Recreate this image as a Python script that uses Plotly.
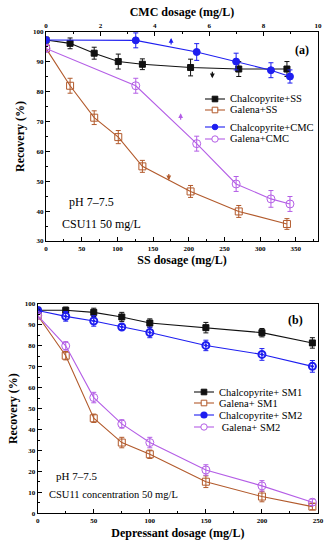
import plotly.graph_objects as go

# ---------- data: panel (a) ----------
ss_dose = [0, 33.75, 67.5, 101.25, 135, 202.5, 270, 337.5]
chalco_ss = [97.3, 96.2, 92.9, 90.1, 89.2, 88.1, 87.6, 87.6]
chalco_ss_err = [0.8, 1.8, 2.0, 2.5, 1.8, 2.8, 2.5, 2.5]
galena_ss = [94.5, 82.0, 71.3, 64.8, 55.0, 46.6, 39.9, 35.7]
galena_ss_err = [1.0, 2.5, 2.3, 2.2, 2.0, 2.0, 2.0, 1.8]

cmc_dose = [0, 3.3, 5.54, 6.99, 8.27, 8.97]
chalco_cmc = [97.3, 97.2, 93.3, 90.1, 87.2, 85.1]
chalco_cmc_err = [0.8, 2.5, 2.8, 2.8, 2.5, 2.2]
galena_cmc = [94.5, 82.0, 62.6, 49.1, 44.1, 42.4]
galena_cmc_err = [1.0, 2.5, 2.5, 2.5, 2.8, 2.5]

# ---------- data: panel (b) ----------
dep_dose = [0, 25, 50, 75, 100, 150, 200, 245]
chalco_sm1 = [97.0, 97.0, 96.0, 93.8, 90.9, 88.7, 86.3, 81.4]
chalco_sm1_err = [0.8, 1.5, 2.0, 2.2, 2.0, 2.5, 2.0, 2.5]
galena_sm1 = [94.5, 75.3, 45.4, 33.8, 28.2, 15.1, 8.0, 3.2]
galena_sm1_err = [1.0, 2.0, 2.0, 2.5, 2.0, 2.8, 2.5, 1.5]
chalco_sm2 = [96.9, 94.1, 91.9, 89.0, 86.4, 80.2, 75.9, 70.2]
chalco_sm2_err = [0.8, 2.3, 2.5, 1.2, 2.5, 2.5, 2.8, 2.8]
galena_sm2 = [94.5, 80.0, 55.3, 42.7, 33.8, 20.7, 13.1, 5.3]
galena_sm2_err = [1.0, 2.0, 2.5, 2.0, 2.5, 2.5, 2.5, 1.5]

BLACK = "#111111"
BROWN = "#b25a2c"
BLUE = "#1e1ef0"
PURPLE = "#b45ee6"
FONT = "Liberation Serif"
W, H = 329, 550

fig = go.Figure()


def add(x, y, err, name, color, symbol, size, xaxis, yaxis, mlw=1):
    fig.add_trace(go.Scatter(
        x=x, y=y, name=name, mode="lines+markers",
        xaxis=xaxis, yaxis=yaxis, showlegend=False,
        line=dict(color=color, width=1.1),
        marker=dict(symbol=symbol, size=size, color=color,
                    line=dict(color=color, width=mlw)),
        error_y=dict(type="data", array=err, visible=True, color=color,
                     thickness=1, width=2.5),
    ))


add(ss_dose, chalco_ss, chalco_ss_err, "Chalcopyrite+SS", BLACK, "square", 6, "x", "y")
add(ss_dose, galena_ss, galena_ss_err, "Galena+SS", BROWN, "square-open", 7, "x", "y")
add(cmc_dose, chalco_cmc, chalco_cmc_err, "Chalcopyrite+CMC", BLUE, "circle", 7, "x2", "y")
add(cmc_dose, galena_cmc, galena_cmc_err, "Galena+CMC", PURPLE, "circle-open", 8, "x2", "y")

add(dep_dose, chalco_sm1, chalco_sm1_err, "Chalcopyrite+ SM1", BLACK, "square", 6, "x3", "y3")
add(dep_dose, galena_sm1, galena_sm1_err, "Galena+ SM1", BROWN, "square-open", 7, "x3", "y3")
add(dep_dose, chalco_sm2, chalco_sm2_err, "Chalcopyrite+ SM2", BLUE, "circle-open-dot", 7, "x3", "y3", mlw=2)
add(dep_dose, galena_sm2, galena_sm2_err, "Galena+ SM2", PURPLE, "circle-open", 8, "x3", "y3")

xa = [46 / W, 318 / W]
ya = [1 - 241 / H, 1 - 32 / H]
xb = [37.7 / W, 318 / W]
yb = [1 - 513.3 / H, 1 - 304 / H]

tickfont = dict(family=FONT, size=7, color="black", weight="bold")
titlefont = dict(family=FONT, size=12, color="black", weight="bold")
common = dict(showline=True, linecolor="black", linewidth=1.2, ticks="inside",
              ticklen=4, tickcolor="black", tickwidth=1, showgrid=False, zeroline=False,
              tickfont=tickfont, automargin=False, ticklabeloverflow="allow")
minor = lambda d: dict(dtick=d, ticks="inside", ticklen=2, tickcolor="black")

fig.update_layout(
    width=W, height=H, margin=dict(l=0, r=0, t=0, b=0),
    paper_bgcolor="white", plot_bgcolor="white",
    font=dict(family=FONT, color="black"),
    showlegend=False,
    xaxis=dict(domain=xa, anchor="y", range=[0, 381], tickvals=[0, 50, 100, 150, 200, 250, 300, 350],
               minor=minor(25),
               title=dict(text="SS dosage (mg/L)", font=titlefont, standoff=4), **common),
    xaxis2=dict(domain=xa, anchor="y", overlaying="x", side="top", range=[0, 10], dtick=2,
                minor=minor(1),
                title=dict(text="CMC dosage (mg/L)", font=titlefont, standoff=2), **common),
    yaxis=dict(domain=ya, anchor="x", range=[30, 100], dtick=10, mirror=True,
               minor=minor(5),
               title=dict(text="Recovery (%)", font=titlefont, standoff=5), **common),
    xaxis3=dict(domain=xb, anchor="y3", range=[0, 250], dtick=50, mirror=True,
                minor=minor(25),
                title=dict(text="Depressant dosage (mg/L)", font=titlefont, standoff=4), **common),
    yaxis3=dict(domain=yb, anchor="x3", range=[0, 100], dtick=10, mirror=True,
                minor=minor(5),
                title=dict(text="Recovery (%)", font=titlefont, standoff=4), **common),
)


# ---------- hand-drawn legends (compact spacing as in the reference) ----------
def px(x, y):
    return x / W, 1 - y / H


def legend_item(x0, y, color, kind, text, fs=10.5):
    a, b = px(x0, y)
    c, _ = px(x0 + 20, y)
    fig.add_shape(type="line", xref="paper", yref="paper", x0=a, x1=c, y0=b, y1=b,
                  line=dict(color=color, width=1.1))
    cx = x0 + 10
    r = 3.2 if kind == "circle-open" else 2.8
    shape = "rect" if kind.startswith("square") else "circle"
    fill = "white" if kind.endswith("open") else color
    lw = 1.6 if kind == "circle-open-dot" else 1
    fig.add_shape(type=shape, xref="paper", yref="paper",
                  x0=(cx - r) / W, x1=(cx + r) / W, y0=1 - (y + r) / H, y1=1 - (y - r) / H,
                  line=dict(color=color, width=lw), fillcolor=fill)
    tx, ty = px(x0 + 23, y)
    fig.add_annotation(x=tx, y=ty, xref="paper", yref="paper", text=text, xanchor="left",
                       yanchor="middle", showarrow=False,
                       font=dict(family=FONT, size=fs, color="black"))


legend_item(205, 99, BLACK, "square", "Chalcopyrite+SS")
legend_item(205, 110, BROWN, "square-open", "Galena+SS")
legend_item(205, 127, BLUE, "circle", "Chalcopyrite+CMC")
legend_item(205, 139, PURPLE, "circle-open", "Galena+CMC")

legend_item(194, 392, BLACK, "square", "Chalcopyrite+ SM1")
legend_item(194, 403, BROWN, "square-open", "Galena+ SM1")
legend_item(194, 415, BLUE, "circle-open-dot", "Chalcopyrite+ SM2")
legend_item(194, 427, PURPLE, "circle-open", " Galena+ SM2")

# ---------- panel labels and notes ----------
fig.add_annotation(x=302 / W, y=1 - 50 / H, xref="paper", yref="paper", text="<b>(a)</b>",
                   xanchor="center", yanchor="middle",
                   showarrow=False, font=dict(family=FONT, size=12, color="black"))
fig.add_annotation(x=295 / W, y=1 - 320 / H, xref="paper", yref="paper", text="<b>(b)</b>",
                   xanchor="center", yanchor="middle",
                   showarrow=False, font=dict(family=FONT, size=12, color="black"))
fig.add_annotation(x=30, y=43.1, xref="x", yref="y", text="pH 7\u20137.5", xanchor="left",
                   yanchor="middle", showarrow=False, font=dict(family=FONT, size=12, color="black"))
fig.add_annotation(x=19, y=35.8, xref="x", yref="y", text="CSU11 50 mg/L", xanchor="left",
                   yanchor="middle", showarrow=False, font=dict(family=FONT, size=12, color="black"))
fig.add_annotation(x=14.5, y=17.8, xref="x3", yref="y3", text="pH 7\u20137.5", xanchor="left",
                   yanchor="middle", showarrow=False, font=dict(family=FONT, size=11, color="black"))
fig.add_annotation(x=8.5, y=9.2, xref="x3", yref="y3", text="CSU11 concentration 50 mg/L",
                   xanchor="left", yanchor="middle", showarrow=False,
                   font=dict(family=FONT, size=10.5, color="black"))


# small arrows indicating the axis each curve refers to
def arrow(x, y, xref, color, up):
    fig.add_annotation(x=x, y=y, xref=xref, yref="y", ax=0, ay=(8 if up else -8),
                       showarrow=True, arrowhead=2, arrowsize=0.8, arrowwidth=1.2,
                       arrowcolor=color, text="")


arrow(4.6, 98.0, "x2", BLUE, True)
arrow(4.95, 72.8, "x2", PURPLE, True)
arrow(233, 84.5, "x", BLACK, False)
arrow(172, 50.3, "x", BROWN, False)

fig.write_html("out.html", config={"displayModeBar": False},
               post_script="document.body.style.margin='0';")
